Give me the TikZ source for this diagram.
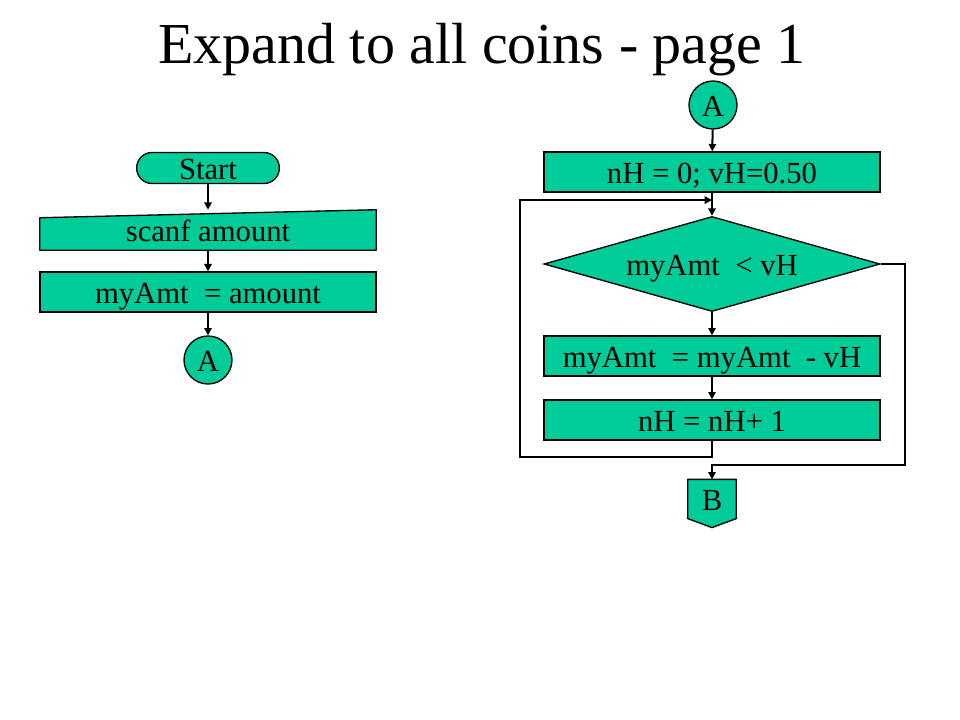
\documentclass[tikz,border=0pt]{standalone}
\usepackage{fontspec}
\setmainfont{Liberation Serif}
\usepackage{tikz}
\usetikzlibrary{calc,arrows.meta,shapes.geometric,backgrounds}
\definecolor{ink}{HTML}{000000}
\definecolor{boxfill}{HTML}{00CC99}
\tikzset{
  lab/.style={text=ink, font=\fontsize{23}{27}\selectfont, text height=17.5pt, text depth=0pt},
  box/.style={lab, draw=ink, fill=boxfill, line width=1pt, inner sep=0pt},
  proc/.style={box, rectangle, minimum width=252pt, minimum height=30pt},
  term/.style={box, rectangle, rounded corners=11.5pt, minimum width=107pt, minimum height=23.25pt},
  io/.style={lab, rectangle, inner sep=0pt, minimum width=252pt, minimum height=30pt},
  decide/.style={box, diamond, aspect=3.5, minimum width=252pt, minimum height=71.25pt},
  conn/.style={box, circle, minimum size=36pt},
  offpage/.style={lab, rectangle, inner sep=0pt, minimum width=36pt, minimum height=29pt},
  shade/.style={draw=ink, fill=boxfill, line width=1pt, line join=round},
  flow/.style={draw=ink, line width=1.5pt, -{Triangle[length=5.5pt,width=5.5pt]}},
  title/.style={text=ink, font=\fontsize{43.5}{50}\selectfont},
}

\begin{document}
\begin{tikzpicture}[x=0.75pt, y=-0.75pt]
  \useasboundingbox (0,0) rectangle (960,720);

  \node[title, anchor=base] (head) at (482,64) {Expand to all coins - page 1};

  % left column
  \node[term] (start) at (208,168) {Start};
  \node[io] (scan) at (208,230) {scanf amount};
  \node[proc] (amt) at (208,292) {myAmt \ = amount};
  \node[conn] (outA) at (208,360) {A};

  \begin{scope}[on background layer]
    \draw[shade] (scan.south west) -- (scan.south east) -- (scan.north east)
      -- ($(scan.north west)+(0,8)$) -- cycle; % manual input
  \end{scope}

  \draw[flow] (start) -- (scan.north);
  \draw[flow] (scan) -- (amt);
  \draw[flow] (amt) -- (outA);

  % right column
  \node[conn] (inA) at (713,105) {A};
  \node[proc] (init) at (712,172) {nH = 0; vH=0.50};
  \node[decide] (test) at (712,264) {myAmt \ < vH};
  \node[proc] (sub) at (712,356) {myAmt \ = myAmt \ - vH};
  \node[proc] (inc) at (712,420) {nH = nH+ 1};
  \node[offpage] (outB) at (712,499) {B};

  \begin{scope}[on background layer]
    \draw[shade] (outB.north west) -- (outB.north east) -- (outB.south east)
      -- ($(outB.south)+(0,9)$) -- (outB.south west) -- cycle; % off-page
  \end{scope}

  \coordinate (join) at ($(init.south)!0.32!(test.north)$);

  \draw[flow] (inA) -- (init);
  \draw[flow] (init) -- (test);
  \draw[flow] (test) -- (sub);
  \draw[flow] (sub) -- (inc);
  \draw[flow] (inc.south) -- ++(0,16) -| ($(join)+(-192,0)$) -- (join);
  \draw[flow] (test.east) -- ++(24,0) |- ($(inc.south)+(0,24)$) -- (outB.north);
\end{tikzpicture}
\end{document}
